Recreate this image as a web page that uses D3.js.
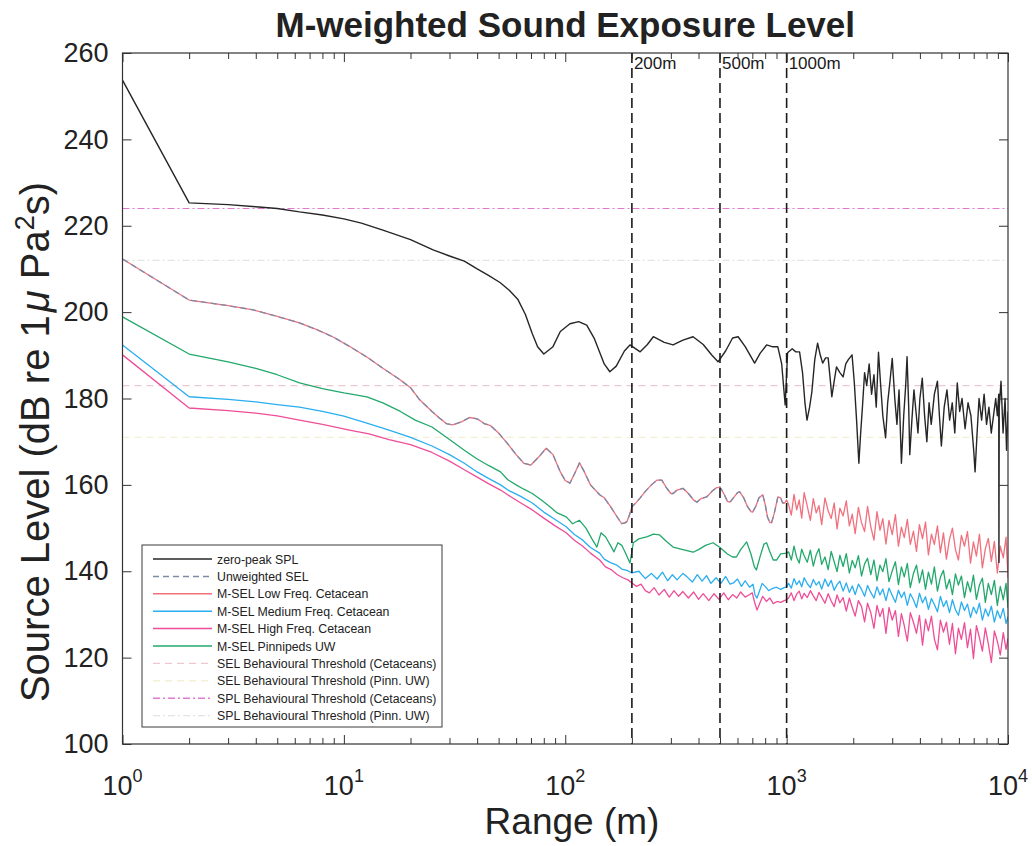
<!DOCTYPE html>
<html>
<head>
<meta charset="utf-8">
<script src="https://cdn.jsdelivr.net/npm/d3@7"></script>
<style>
  html, body { margin: 0; padding: 0; background: #fff; }
  svg { display: block; font-family: "Liberation Sans", Arial, Helvetica, sans-serif; }
</style>
</head>
<body>
<svg id="chart" width="1032" height="846"></svg>
<script>
// ---------------- DATA ----------------
const chartTitle = "M-weighted Sound Exposure Level";
const xTickExponents = [0, 1, 2, 3, 4];
const yTicks = [100, 120, 140, 160, 180, 200, 220, 240, 260];
const markerRanges = [200, 500, 1000];
const markerLabels = ["200m", "500m", "1000m"];

// thresholds (dB)
const thrSELCet = 183;
const thrSELPinn = 171;
const thrSPLCet = 224;
const thrSPLPinn = 212;

// zero-peak SPL [range m, dB]
const zeroPeak = [
  [1,253.7],[2,225.3],[3,224.9],[4,224.4],[5,224],[6.3,223.2],[8,222.5],[10,221.6],[12,220.6],[15,219],
  [20,216.8],[25.3,214.4],[30,213],[35,211.8],[40,210],[45,208.5],[50.9,206.8],[56,205],[61,203],[66,199.5],
  [71,195],[75,192],[80,190.3],[88,192],[95,195.5],[105,197.3],[115,197.8],[125,197],[135,194],[150,188],
  [159,186.2],[170,187.5],[185,191],[196,192.4],[218,190.8],[235,192.5],[250,194.3],[280,193],[307,192.4],
  [340,193.5],[378,194.3],[420,192.5],[460,190],[490,188.5],[530,191],[570,194],[604,194.3],[650,192],
  [717,188.2],[760,190.5],[812,192.4],[860,192],[912,192],[950,188],[985,178.5],[1010,190.6],[1060,191.5],
  [1100,190.8],[1144,190.8],[1180,186],[1210,179],[1236,175],[1270,178],[1300,181.5],[1340,189],[1380,192.8],
  [1420,190],[1455,188.2],[1500,189.4],[1540,189.4],[1570,185],[1600,180.4],[1640,184],[1680,187.3],
  [1740,186],[1800,185],[1850,188],[1900,189],[1975,190.1],[2020,184],[2070,175],[2120,165],[2160,172],
  [2200,178],[2250,186],[2300,183],[2360,188],[2420,181],[2480,185.5],[2540,178],[2600,190.7],[2660,183],
  [2720,176],[2800,170.9],[2860,179],[2930,184],[3000,189.3],[3080,180],[3150,174],[3220,182],[3300,165],
  [3380,176],[3450,183],[3500,189.7],[3560,178],[3600,167],[3680,175],[3760,182],[3840,177],[3920,172],
  [4000,180],[4100,184.7],[4200,176],[4300,170],[4400,179],[4500,174],[4650,181],[4800,184],[4900,176],
  [5000,169],[5150,178],[5300,182],[5450,175],[5600,179],[5750,172],[5900,183.6],[6050,177],[6200,180],
  [6400,173],[6600,179],[6800,176],[7000,168],[7100,163],[7250,172],[7400,180],[7600,175],[7800,181],
  [8000,174],[8200,178],[8400,172],[8600,176],[8800,180],[8950,176],[9080,181],[9100,142],[9130,178],
  [9300,184],[9500,172],[9700,180],[9850,168],[10000,177]
];

// near-field parts [range m, dB]
const lowFreqNear = [
  [1,212.3],[2,202.8],[3,201.5],[3.9,200.5],[5,199],[6.3,197.5],[7.5,196],[8.9,194.3],[10.5,192.2],[12.7,189.6],
  [15,187],[18,184.3],[20,182.5],[22,179.7],[25,177],[27,175.5],[29,174.2],[31,173.9],[34,174.6],[37,175.6],
  [40,175.3],[43,174.2],[46,173.7],[50,172],[55,169.5],[60,167],[65,165],[70,164.6],[76,166.5],[82,168.5],
  [88,167],[95,163],[100,161],[105,160.4],[110,162.5],[116,165.1],[122,163],[130,160],[143,157.7],[150,157],
  [160,155],[172,152.5],[180,151],[186,151.2],[190,151.5],[195,153],[200,154.9],[210,156],[218,157],[230,158.5],
  [245,160],[260,161.1],[273,161.1],[285,159.5],[300,158],[307,158],[320,158.8],[340,159.2],[360,158],[380,156.5],
  [393,156],[410,156.8],[435,157.2],[460,158.5],[480,159.3],[500,159.5],[520,158],[540,156.2],[555,156],[575,157],
  [600,158.2],[614,158.4],[640,157],[665,155],[690,153.8],[702,153.7],[725,155],[750,157],[780,157.7],[800,155.5],
  [820,152.5],[840,151.3],[855,151.2],[880,153.5],[913,157.2],[940,157],[960,155.8],[980,155.8],[1000,156.5]
];
const unweightedSEL = lowFreqNear; // coincides with the LF curve (drawn dashed on top)

const pinnipedNear = [
  [1,198.9],[2,190.3],[3,188.5],[4,187],[5,185.5],[6.3,183.6],[8,182.3],[10,181.3],[12.7,180.4],[15,179],
  [18,177],[21,175],[25,173.4],[30,170.5],[35,168],[40,166],[45,164.5],[51,163],[55,161.2],[60,160],
  [65,159],[71,158],[78,156.5],[85,155],[92,153.5],[101,152.6],[108,151],[116,151.8],[124,150],[132,147.5],
  [139,145.6],[145,148.9],[152,148],[160,146],[166,144.5],[173,146.6],[180,146],[188,144],[196,141.9],[203,146.6],
  [215,147.5],[235,148],[250,148.6],[267,148.4],[285,147],[307,145.6],[330,145.2],[355,144.8],[378,144.4],[400,145],
  [430,146],[465,146.6],[500,145.5],[540,144],[570,143.3],[593,143.3],[620,145],[660,146.8],[690,144],[715,141],
  [730,140.3],[760,143.5],[790,146.3],[812,146.6],[840,144.5],[870,142.6],[900,142.6],[940,144],[1000,144.2]
];

const medFreqNear = [
  [1,192.4],[2,180.4],[3,179.8],[4,179.2],[5,178.6],[6.3,178],[8,177],[10,175.9],[12.7,174.3],[16,172.7],
  [20,171],[25,169],[30,167],[35,165],[40,163],[45,161.5],[51,160],[56,158.6],[62,157.5],[71,155.8],
  [80,153.7],[90,152],[101,150.3],[110,148.5],[120,147.2],[130,145.5],[143,144.2],[150,142.8],[160,142],[170,141.5],
  [180,140.5],[190,140.2],[200,139.6],[215,140],[230,138.3],[245,139.5],[260,138.2],[275,139.8],[290,137.8],[305,139.2],
  [320,138],[340,139.5],[355,138.7],[375,137.5],[395,139.2],[415,137.7],[435,139],[455,137.2],[480,138.5],[505,137.2],
  [530,138.8],[555,137],[575,137.3],[600,138.2],[625,136.5],[650,137.8],[680,136.3],[705,137],[720,134.5],[735,133.8],
  [755,135.5],[775,137.2],[800,136.5],[830,135.5],[860,136],[900,136.3],[940,135.8],[975,136.2],[1000,136.4]
];

const highFreqNear = [
  [1,190.1],[2,177.8],[3,177.2],[4,176.6],[5,176],[6.3,175],[8,174],[10.6,172.7],[13,171.8],[16,170.5],
  [20,169.3],[25,167.5],[30,165.5],[35,163.5],[40,161.8],[45,160.3],[51,158.8],[57,157.2],[63,155.8],[71,154.2],
  [80,152.3],[90,150.5],[101,148.9],[110,147.2],[120,145.8],[130,144.2],[143,142.6],[152,141],[162,140.3],[172,139.2],
  [182,138.5],[192,138],[200,137.3],[210,136.5],[220,137],[230,135.5],[240,135],[252,136.2],[265,134.5],[280,135.8],
  [295,134],[310,135.5],[325,134.2],[340,135.3],[360,133.8],[380,135.2],[400,133.5],[420,134.8],[445,133.2],[470,134.8],
  [495,133.5],[520,135],[545,133.4],[570,134.6],[595,133.8],[620,135.2],[650,134],[675,134.5],[700,135],[715,133],
  [735,131],[755,132.5],[780,134.2],[810,133],[840,133.8],[870,132.5],[905,133],[940,132.8],[975,133.2],[1000,133.4]
];

// far field (1 km – 10 km) shared range samples
const rangeFar = [1020,1050,1080,1110,1140,1170,1200,1240,1280,1320,1360,1400,1440,1490,1540,1590,1640,1690,1740,1800,
  1860,1920,1980,2040,2110,2180,2250,2320,2400,2480,2560,2640,2720,2810,2900,3000,3100,3200,3300,3400,
  3510,3620,3740,3860,3980,4110,4240,4370,4510,4650,4800,4950,5110,5270,5440,5610,5790,5970,6160,6360,
  6560,6770,6980,7200,7430,7660,7900,8150,8410,8680,8950,9230,9520,9800,10000];
const lowFreqFar = [155.5,153,157.8,154.2,156.5,152.3,158.2,155,151.8,156.8,153.5,155.2,150.8,157,154,152.2,155.8,149.8,154.6,152.8,
  156.3,150.5,153.2,148.7,154.8,151.2,149.2,155,150.3,147.2,153.8,149.5,152.2,146.3,151.8,148.5,153.1,145.8,150.2,147.8,
  152,146.2,149.3,144.6,150.8,147.5,151.4,143.8,148.6,146.2,150.5,144.3,148.9,142.8,147.4,150,145,142.6,148.3,145.8,
  149.2,141.9,146.8,143.5,148.6,140.8,145.2,147.6,142.3,146.9,139.6,145.8,143.1,147.9,138.5];
const pinnipedFar = [144.5,142.6,145.8,143.2,141.9,145.1,143.6,142.1,144.9,141.2,143.8,145.2,141.6,143.3,140.4,144.6,142.2,139.9,143.7,141.1,
  144.1,139.6,142.5,140.8,143.6,138.9,141.7,143,139.2,142.6,137.8,141.4,139.9,142.9,137.6,140.1,142.2,136.9,141,138.7,
  141.8,136.2,139.5,141.4,137.3,140.3,135.8,139.8,137,141,135.4,138.6,140.2,135.9,138.1,134.6,139.4,136.8,138.9,133.9,
  137.6,135.2,139.1,133.5,136.8,138.4,132.8,137.2,134.6,137.9,132.1,136.5,133.4,137.2,131.5];
const medFreqFar = [137.2,136.1,138.3,136.9,137.8,136.4,138.5,137.1,136.2,138.1,136.8,137.6,135.9,138.2,136.5,137.9,135.6,136.9,137.7,135.4,
  137.3,135.1,136.6,134.6,137,135.8,134.2,136.7,135.1,133.8,136.4,134.5,135.9,133.2,136.1,134.4,132.8,135.6,133.9,135.2,
  132.1,134.8,133.4,131.6,134.9,132.7,134.1,131.2,133.7,132.3,130.6,134.2,131.8,133.2,130.4,133.4,131.1,129.8,132.9,130.9,
  132.4,129.3,131.7,130.2,132.6,128.7,131.3,129.6,131.9,128.2,130.9,129.1,131.4,127.9,129.5];
const highFreqFar = [133.8,135,133.2,134.7,135.4,133.6,134.9,133.9,135.5,134.3,133.2,135.1,134,132.6,134.8,133.1,131.8,134.5,132.7,133.9,
  130.8,133.8,131.6,129.6,133.2,131.8,128.3,132.6,130.4,126.8,132.1,129.5,131.4,125.6,131.6,128.7,130.9,124.9,130.2,127.4,
  123.8,130.4,128.2,125.6,129.8,122.9,128.9,126.2,129.6,124.3,121.8,128.7,125.9,128.2,123.1,127.9,120.9,126.8,124.2,128.1,
  122.3,126.6,119.8,127.4,124.6,121.5,126.9,123.2,118.9,126.2,123.8,120.6,125.8,121.9,124.5];

// legend entries
const legendLabels = [
  "zero-peak SPL", "Unweighted SEL", "M-SEL Low Freq. Cetacean", "M-SEL Medium Freq. Cetacean",
  "M-SEL High Freq. Cetacean", "M-SEL Pinnipeds UW", "SEL Behavioural Threshold (Cetaceans)",
  "SEL Behavioural Threshold (Pinn. UW)", "SPL Behavioural Threshold (Cetaceans)", "SPL Behavioural Threshold (Pinn. UW)"
];

// ---------------- DRAW ----------------
const svg = d3.select("#chart");
const L = 122.5, R = 1008, T = 53, B = 744;
const x = d3.scaleLog().domain([1, 10000]).range([L, R]);
const y = d3.scaleLinear().domain([100, 260]).range([B, T]);

const far = vals => rangeFar.map((r, i) => [r, vals[i]]);
const lowFreq = lowFreqNear.concat(far(lowFreqFar));
const pinniped = pinnipedNear.concat(far(pinnipedFar));
const medFreq = medFreqNear.concat(far(medFreqFar));
const highFreq = highFreqNear.concat(far(highFreqFar));

const styles = {
  zp:   {color: "#262626", width: 1.4, dash: null},
  unw:  {color: "#7d8aa6", width: 1.3, dash: "6,4"},
  lf:   {color: "#f0707e", width: 1.3, dash: null},
  mf:   {color: "#2aaef0", width: 1.3, dash: null},
  hf:   {color: "#ee4e98", width: 1.3, dash: null},
  pw:   {color: "#22a86c", width: 1.3, dash: null},
  selC: {color: "#f0c8d0", width: 1.2, dash: "7,5"},
  selP: {color: "#f4f0d6", width: 1.2, dash: "7,5"},
  splC: {color: "#e27ad2", width: 1.2, dash: "7,3,2,3"},
  splP: {color: "#e4e4e4", width: 1.2, dash: "7,3,2,3"}
};
const legendKeys = ["zp","unw","lf","mf","hf","pw","selC","selP","splC","splP"];

svg.append("defs").append("clipPath").attr("id", "plotclip")
  .append("rect").attr("x", L).attr("y", T).attr("width", R - L).attr("height", B - T);

const plot = svg.append("g").attr("clip-path", "url(#plotclip)");
const line = d3.line().x(d => x(d[0])).y(d => y(d[1]));

function drawLine(data, st) {
  const p = plot.append("path").datum(data).attr("d", line)
    .attr("fill", "none").attr("stroke", st.color).attr("stroke-width", st.width)
    .attr("stroke-linejoin", "round");
  if (st.dash) p.attr("stroke-dasharray", st.dash);
  return p;
}

// thresholds
[[thrSELPinn, styles.selP], [thrSPLPinn, styles.splP], [thrSELCet, styles.selC], [thrSPLCet, styles.splC]].forEach(([v, st]) => {
  drawLine([[1, v], [10000, v]], st);
});

// curves
drawLine(pinniped, styles.pw);
drawLine(highFreq, styles.hf);
drawLine(medFreq, styles.mf);
drawLine(lowFreq, styles.lf);
drawLine(unweightedSEL, styles.unw);
drawLine(zeroPeak, styles.zp);

// marker lines
markerRanges.forEach((r, i) => {
  plot.append("line").attr("x1", x(r)).attr("x2", x(r)).attr("y1", T).attr("y2", B)
    .attr("stroke", "#1a1a1a").attr("stroke-width", 1.6).attr("stroke-dasharray", "10,5");
  svg.append("text").attr("x", x(r) + 2).attr("y", 69).attr("font-size", 17).attr("fill", "#1a1a1a")
    .text(markerLabels[i]);
});

// axes ticks
const minorTicks = [];
for (let e = 0; e < 4; e++) for (let m = 2; m <= 9; m++) minorTicks.push(m * Math.pow(10, e));
const majorTicks = xTickExponents.map(e => Math.pow(10, e));
const tickColor = "#333";

function addXTicks(vals, len) {
  const g = svg.append("g");
  g.append("g").attr("transform", `translate(0,${B})`)
    .call(d3.axisBottom(x).tickValues(vals).tickSizeInner(-len).tickSizeOuter(0).tickFormat(""));
  g.append("g").attr("transform", `translate(0,${T})`)
    .call(d3.axisTop(x).tickValues(vals).tickSizeInner(-len).tickSizeOuter(0).tickFormat(""));
  g.selectAll(".domain").remove();
  g.selectAll("line").attr("stroke", tickColor).attr("stroke-width", 1);
}
addXTicks(minorTicks, 6);
addXTicks(majorTicks, 9);

const gy = svg.append("g").attr("transform", `translate(${L},0)`)
  .call(d3.axisLeft(y).tickValues(yTicks).tickSizeInner(-9).tickSizeOuter(0).tickPadding(14));
gy.select(".domain").remove();
gy.selectAll("line").attr("stroke", tickColor);
gy.selectAll("text").attr("font-size", 27).attr("fill", "#222").attr("font-family", "Liberation Sans, Arial, sans-serif");
const gyr = svg.append("g").attr("transform", `translate(${R},0)`)
  .call(d3.axisRight(y).tickValues(yTicks).tickSizeInner(-9).tickSizeOuter(0).tickFormat(""));
gyr.select(".domain").remove();
gyr.selectAll("line").attr("stroke", tickColor);

// x tick labels 10^n
xTickExponents.forEach(e => {
  const t = svg.append("text").attr("x", x(Math.pow(10, e))).attr("y", 795)
    .attr("text-anchor", "middle").attr("font-size", 27).attr("fill", "#222");
  t.append("tspan").text("10");
  t.append("tspan").attr("dy", -13).attr("font-size", 18).text(String(e));
});

// frame
svg.append("rect").attr("x", L).attr("y", T).attr("width", R - L).attr("height", B - T)
  .attr("fill", "none").attr("stroke", "#333").attr("stroke-width", 1.2);

// title
svg.append("text").attr("x", (L + R) / 2).attr("y", 37).attr("text-anchor", "middle")
  .attr("font-size", 35).attr("font-weight", "bold").attr("fill", "#222").text(chartTitle);

// axis labels
svg.append("text").attr("x", 572).attr("y", 834).attr("text-anchor", "middle")
  .attr("font-size", 37).attr("fill", "#222").text("Range (m)");
const yl = svg.append("text").attr("transform", "translate(49,442) rotate(-90)")
  .attr("text-anchor", "middle").attr("font-size", 40).attr("fill", "#222");
yl.append("tspan").text("Source Level (dB re 1");
yl.append("tspan").attr("font-style", "italic").attr("dx", 3).text("μ");
yl.append("tspan").text(" Pa");
yl.append("tspan").attr("dy", -15).attr("font-size", 27).text("2");
yl.append("tspan").attr("dy", 15).text("s)");

// legend
const lg = svg.append("g");
lg.append("rect").attr("x", 142).attr("y", 545).attr("width", 300).attr("height", 182)
  .attr("fill", "#fff").attr("stroke", "#3a3a3a").attr("stroke-width", 1);
legendKeys.forEach((k, i) => {
  const cy = 559 + i * 17.4;
  const st = styles[k];
  const ln = lg.append("line").attr("x1", 153).attr("x2", 212).attr("y1", cy).attr("y2", cy)
    .attr("stroke", st.color).attr("stroke-width", st.width + 0.2);
  if (st.dash) ln.attr("stroke-dasharray", st.dash);
  lg.append("text").attr("x", 217).attr("y", cy + 4.5).attr("font-size", 12.3).attr("fill", "#222")
    .text(legendLabels[i]);
});
</script>
</body>
</html>
